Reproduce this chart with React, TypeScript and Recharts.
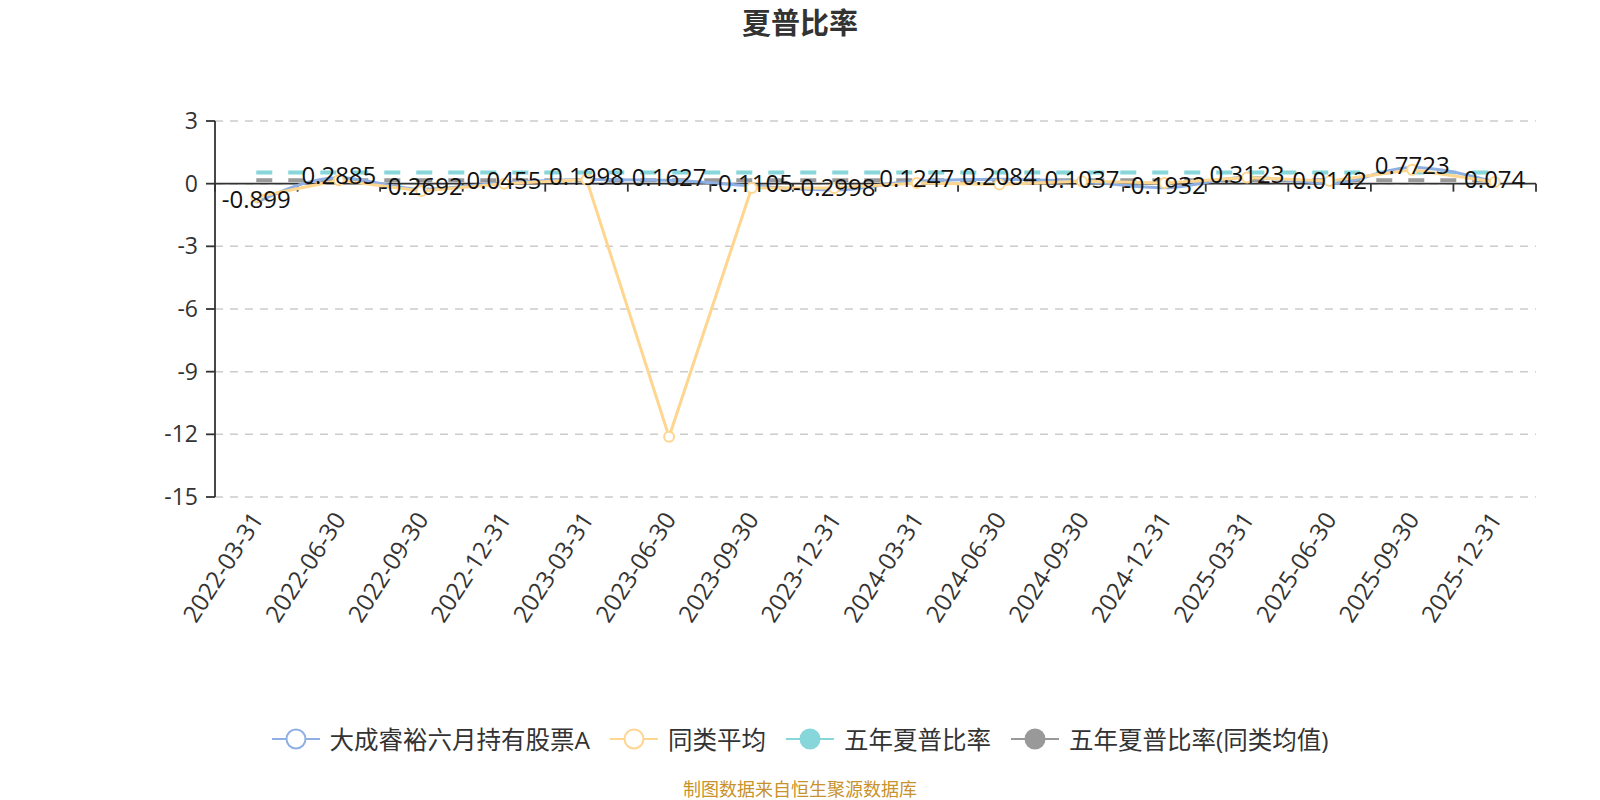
import React from 'react';
import { LineChart, Line, XAxis, YAxis, CartesianGrid, ReferenceLine, LabelList, Legend } from 'recharts';

// 报告期
const dates = [
  '2022-03-31', '2022-06-30', '2022-09-30', '2022-12-31',
  '2023-03-31', '2023-06-30', '2023-09-30', '2023-12-31',
  '2024-03-31', '2024-06-30', '2024-09-30', '2024-12-31',
  '2025-03-31', '2025-06-30', '2025-09-30', '2025-12-31',
];

// 大成睿裕六月持有股票A
const fundSharpe = [
  -0.899, 0.2885, -0.2692, 0.0455, 0.1998, 0.1627, -0.1105, -0.2998,
  0.1247, 0.2084, 0.1037, -0.1932, 0.3123, 0.0142, 0.7723, 0.074,
];

// 同类平均
const peerSharpe = [
  -0.64, 0.16, -0.35, 0.0, 0.2, -12.12, -0.21, -0.21,
  0.03, -0.04, 0.11, 0.03, 0.3, 0.13, 0.67, 0.08,
];

// 五年夏普比率
const fiveYearSharpe = [
  0.54, 0.54, 0.54, 0.54, 0.54, 0.54, 0.54, 0.54,
  0.54, 0.54, 0.54, 0.54, 0.54, 0.54, 0.54, 0.54,
];

// 五年夏普比率(同类均值)
const fiveYearPeerSharpe = [
  0.16, 0.16, 0.16, 0.16, 0.16, 0.16, 0.16, 0.16,
  0.16, 0.16, 0.16, 0.16, 0.16, 0.16, 0.16, 0.16,
];

const yTicks = [3, 0, -3, -6, -9, -12, -15];

const FONT = '"Open Sans", "Noto Sans CJK SC", sans-serif';
const BLUE = '#8FB0E2';
const YELLOW = '#FFD68F';
const TEAL = '#86D6DA';
const GREY = '#999999';

const chartData = dates.map((date, i) => ({
  date,
  fund: fundSharpe[i],
  peer: peerSharpe[i],
  five: fiveYearSharpe[i],
  fivePeer: fiveYearPeerSharpe[i],
}));

const legendItems = [
  { name: '大成睿裕六月持有股票A', color: BLUE, filled: false },
  { name: '同类平均', color: YELLOW, filled: false },
  { name: '五年夏普比率', color: TEAL, filled: true },
  { name: '五年夏普比率(同类均值)', color: GREY, filled: true },
];

// x轴刻度文字，旋转显示
const DateTick = (props: any) => {
  const { x, y, payload } = props;
  const tx = x;
  const ty = y + 9;
  return (
    <text
      x={tx}
      y={ty}
      transform={`rotate(-57, ${tx}, ${ty})`}
      textAnchor="end"
      dominantBaseline="central"
      fontSize={24}
      fontFamily={FONT}
      fill="#333"
    >
      {payload.value}
    </text>
  );
};

// 零轴线 + 类目分隔刻度
const ZeroAxis = (props: any) => {
  const { x1, y1, x2 } = props;
  if (x1 == null || y1 == null || x2 == null) return null;
  const n = dates.length;
  const step = (x2 - x1) / n;
  const ticks = [];
  for (let k = 0; k <= n; k++) {
    const tx = x1 + k * step;
    ticks.push(<line key={k} x1={tx} y1={y1} x2={tx} y2={y1 + 8} stroke="#333" strokeWidth={1.8} />);
  }
  return (
    <g>
      <line x1={x1} y1={y1} x2={x2} y2={y1} stroke="#333" strokeWidth={1.8} />
      {ticks}
    </g>
  );
};

const ValueLabel = (props: any) => {
  const { x, y, value } = props;
  if (x == null || y == null) return null;
  return (
    <text x={x} y={y + 6} textAnchor="middle" fontSize={24} fontFamily={FONT} fill="#111">
      {value}
    </text>
  );
};

const LegendContent = () => (
  <div
    style={{
      display: 'flex',
      justifyContent: 'center',
      alignItems: 'center',
      fontFamily: FONT,
      fontSize: 24.5,
      color: '#333',
    }}
  >
    {legendItems.map((item, i) => (
      <div
        key={item.name}
        style={{ display: 'flex', alignItems: 'center', marginRight: i < legendItems.length - 1 ? 20 : 0 }}
      >
        <svg width={48} height={24} style={{ marginRight: 10 }}>
          <line x1={0} y1={12} x2={48} y2={12} stroke={item.color} strokeWidth={2} />
          <circle
            cx={24}
            cy={12}
            r={item.filled ? 10.5 : 9.5}
            fill={item.filled ? item.color : '#fff'}
            stroke={item.color}
            strokeWidth={item.filled ? 0 : 2}
          />
        </svg>
        <span>{item.name}</span>
      </div>
    ))}
  </div>
);

const App: React.FC = () => {
  return (
    <div style={{ position: 'absolute', left: 0, top: 0, width: 1600, height: 800, background: '#fff' }}>
      <div
        style={{
          position: 'absolute',
          top: 4,
          left: 0,
          width: 1600,
          textAlign: 'center',
          fontFamily: FONT,
          fontSize: 29,
          fontWeight: 'bold',
          color: '#333',
          lineHeight: '38px',
        }}
      >
        夏普比率
      </div>
      <LineChart
        width={1600}
        height={800}
        data={chartData}
        margin={{ top: 121, right: 64, left: 0, bottom: 203 }}
      >
        <CartesianGrid
          horizontal
          vertical={false}
          stroke="#cccccc"
          strokeDasharray="8 7"
          strokeWidth={1.5}
        />
        <XAxis
          dataKey="date"
          scale="band"
          interval={0}
          axisLine={false}
          tickLine={false}
          height={100}
          tick={<DateTick />}
        />
        <YAxis
          width={215}
          domain={[-15, 3]}
          ticks={yTicks}
          interval={0}
          axisLine={{ stroke: '#333', strokeWidth: 1.8 }}
          tickLine={{ stroke: '#333', strokeWidth: 1.8 }}
          tickSize={9}
          tickMargin={8}
          tick={{ fontSize: 23, fontFamily: FONT, fill: '#333' }}
        />
        <ReferenceLine y={0} shape={<ZeroAxis />} />
        <Line
          dataKey="five"
          stroke={TEAL}
          strokeWidth={4}
          strokeDasharray="16 16"
          dot={false}
          activeDot={false}
          isAnimationActive={false}
        />
        <Line
          dataKey="fivePeer"
          stroke={GREY}
          strokeWidth={4}
          strokeDasharray="16 16"
          dot={false}
          activeDot={false}
          isAnimationActive={false}
        />
        <Line
          type="monotone"
          dataKey="fund"
          stroke={BLUE}
          strokeWidth={3}
          dot={false}
          activeDot={false}
          isAnimationActive={false}
        />
        <Line
          type="linear"
          dataKey="peer"
          stroke={YELLOW}
          strokeWidth={3}
          dot={{ r: 5, fill: '#fff', stroke: YELLOW, strokeWidth: 2 }}
          activeDot={false}
          isAnimationActive={false}
        />
        {/* 标签放在最上层 */}
        <Line
          dataKey="fund"
          stroke="none"
          dot={false}
          activeDot={false}
          legendType="none"
          isAnimationActive={false}
        >
          <LabelList dataKey="fund" content={<ValueLabel />} />
        </Line>
        <Legend
          verticalAlign="middle"
          content={<LegendContent />}
          wrapperStyle={{ position: 'absolute', top: 721, left: 0, width: 1600, height: 34 }}
        />
      </LineChart>
      <div
        style={{
          position: 'absolute',
          top: 777,
          left: 0,
          width: 1600,
          textAlign: 'center',
          fontFamily: FONT,
          fontSize: 18,
          color: '#C8922C',
          lineHeight: '24px',
        }}
      >
        制图数据来自恒生聚源数据库
      </div>
    </div>
  );
};

export default App;
